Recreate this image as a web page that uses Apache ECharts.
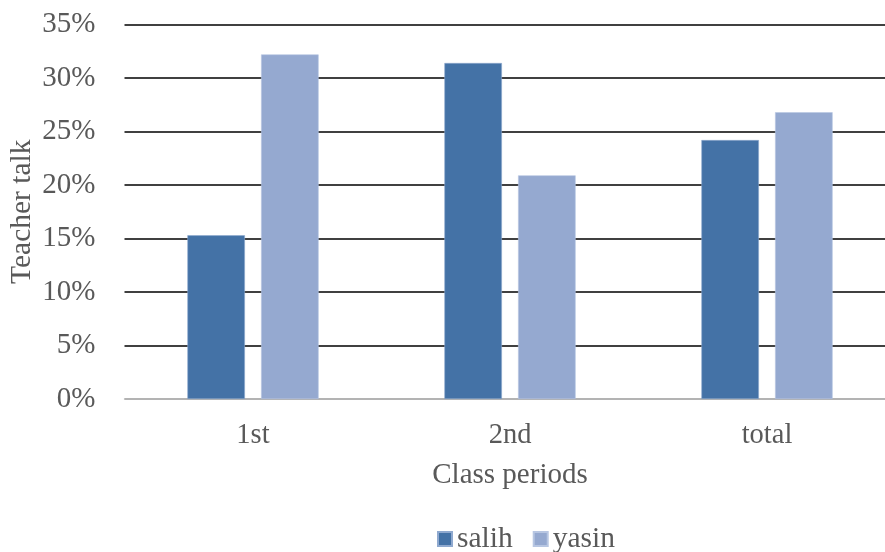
<!DOCTYPE html>
<html>
<head>
<meta charset="utf-8">
<script src="https://cdn.jsdelivr.net/npm/echarts@6/dist/echarts.min.js"></script>
<style>
html,body{margin:0;padding:0;background:#fff;}
#c{width:885px;height:552px;}
</style>
</head>
<body>
<div id="c"></div>
<script>
const categories = ['1st', '2nd', 'total'];
const salih = [0.153, 0.314, 0.242];
const yasin = [0.322, 0.209, 0.268];
const seriesNames = ['salih', 'yasin'];
const yTicks = [0, 0.05, 0.10, 0.15, 0.20, 0.25, 0.30, 0.35];

const FONT = '"Liberation Serif", "Times New Roman", serif';
const chart = echarts.init(document.getElementById('c'), null, {renderer: 'canvas'});
chart.setOption({
  animation: false,
  backgroundColor: '#ffffff',
  textStyle: {fontFamily: FONT},
  grid: {left: 124.5, top: 24.5, width: 771, height: 374.5, containLabel: false, outerBoundsMode: 'none'},
  legend: {
    data: seriesNames,
    left: 437, top: 524, padding: 0,
    itemWidth: 14, itemHeight: 14, itemGap: 20,
    icon: 'rect',
    textStyle: {fontFamily: FONT, fontSize: 29.5, color: '#595959', lineHeight: 28}
  },
  xAxis: {
    type: 'category',
    data: categories,
    name: 'Class periods',
    nameLocation: 'middle',
    nameGap: 62,
    nameMoveOverlap: false,
    nameTextStyle: {fontFamily: FONT, fontSize: 29, color: '#595959'},
    axisLine: {show: true, lineStyle: {color: '#d9d9d9', width: 1.5}},
    axisTick: {show: false},
    axisLabel: {fontFamily: FONT, fontSize: 28.5, color: '#595959', margin: 22}
  },
  yAxis: {
    type: 'value',
    min: 0, max: 0.35, interval: 0.05,
    name: 'Teacher talk',
    nameLocation: 'middle',
    nameGap: 87,
    nameMoveOverlap: false,
    nameRotate: 90,
    nameTextStyle: {fontFamily: FONT, fontSize: 29.5, color: '#595959'},
    axisLine: {show: false},
    axisTick: {show: false},
    splitLine: {show: true, lineStyle: {color: '#000000', width: 1.6}},
    axisLabel: {
      fontFamily: FONT, fontSize: 29, color: '#595959', margin: 29,
      formatter: v => Math.round(v * 100) + '%'
    }
  },
  series: [
    {
      name: seriesNames[0], type: 'bar', data: salih,
      barWidth: '22.4%', barGap: '28%',
      itemStyle: {color: '#4472A6', borderColor: '#8fa9cf', borderWidth: 0.6},
      z: 3
    },
    {
      name: seriesNames[1], type: 'bar', data: yasin,
      barWidth: '22.4%', barGap: '28%',
      itemStyle: {color: '#95A9D0', borderColor: '#b7c6e2', borderWidth: 0.6},
      z: 3
    }
  ]
});
</script>
</body>
</html>
